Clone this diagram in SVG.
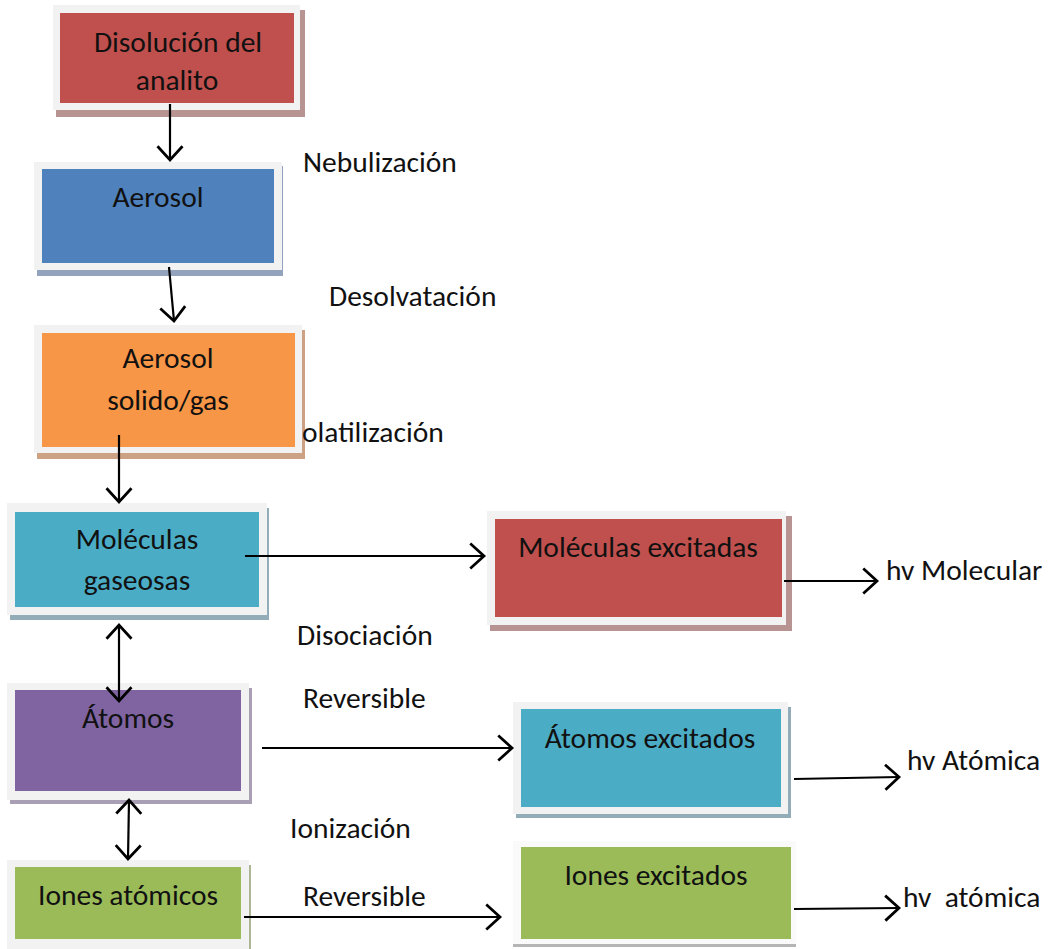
<svg xmlns="http://www.w3.org/2000/svg" width="1052" height="949" viewBox="0 0 1052 949">
<style>
text{font-family:Calibri,Carlito,Lato,"Open Sans",sans-serif;font-size:29.5px;fill:#111}
.c{text-anchor:middle}
.frame{fill:#f2f2f2}
.ln{stroke:#000;stroke-width:2.2;fill:none}
</style>
<defs>
<marker id="ah" markerUnits="userSpaceOnUse" markerWidth="30" markerHeight="30" viewBox="-14 -12 16 24" refX="0" refY="0" orient="auto-start-reverse">
<path d="M-11,-10 L0,0 L-11,10" fill="none" stroke="#000" stroke-width="2.2"/>
</marker>
</defs>
<rect width="1052" height="949" fill="#fff"/>
<g id="n1">
<rect x="56" y="10" width="249" height="107" fill="#b79392"/>
<rect class="frame" x="53" y="5" width="247" height="105"/>
<rect x="60" y="13" width="234" height="90" fill="#c0504d"/>
<text class="c" x="178" y="52">Disolución del</text>
<text class="c" x="177" y="90">analito</text>
</g>
<g id="n2">
<rect x="37" y="166" width="246" height="110" fill="#93a3bd"/>
<rect class="frame" x="34" y="162" width="248" height="108"/>
<rect x="42" y="169" width="232" height="94" fill="#4f81bd"/>
<text class="c" x="158" y="207">Aerosol</text>
</g>
<g id="n3">
<rect x="37" y="330" width="268" height="129" fill="#cda184"/>
<rect class="frame" x="34" y="325" width="268" height="128"/>
<rect x="42" y="333" width="253" height="114" fill="#f79646"/>
<text class="c" x="168" y="368">Aerosol</text>
<text class="c" x="168" y="410">solido/gas</text>
</g>
<g id="n4">
<rect x="10" y="508" width="259" height="112" fill="#93adb8"/>
<rect class="frame" x="7" y="503" width="260" height="112"/>
<rect x="15" y="512" width="244" height="95" fill="#4bacc6"/>
<text class="c" x="137" y="549">Moléculas</text>
<text class="c" x="137" y="590">gaseosas</text>
</g>
<g id="n5">
<rect x="10" y="688" width="242" height="116" fill="#a99fb4"/>
<rect class="frame" x="7" y="683" width="242" height="117"/>
<rect x="15" y="690" width="226" height="101" fill="#8064a2"/>
<text class="c" x="128" y="728">Átomos</text>
</g>
<g id="n6">
<rect x="10" y="865" width="241" height="90" fill="#abb695"/>
<rect class="frame" x="7" y="860" width="242" height="89"/>
<rect x="15" y="867" width="226" height="72" fill="#9bbb59"/>
<text class="c" x="128" y="905">Iones atómicos</text>
</g>
<g id="n7">
<rect x="490" y="516" width="302" height="115" fill="#b79392"/>
<rect class="frame" x="487" y="511" width="299" height="114"/>
<rect x="495" y="519" width="287" height="98" fill="#c0504d"/>
<text class="c" x="638" y="557">Moléculas excitadas</text>
</g>
<g id="n8">
<rect x="516" y="707" width="275" height="111" fill="#93adb8"/>
<rect class="frame" x="513" y="702" width="275" height="112"/>
<rect x="521" y="709" width="260" height="98" fill="#4bacc6"/>
<text class="c" x="650" y="748">Átomos excitados</text>
</g>
<g id="n9">
<rect x="513" y="944" width="283" height="3" fill="#b5b5b5"/>
<rect x="513" y="841" width="283" height="103" fill="#fafafa"/>
<rect x="521" y="847" width="270" height="92" fill="#9bbb59"/>
<text class="c" x="656" y="885">Iones excitados</text>
</g>
<g id="labels">
<text x="303" y="172">Nebulización</text>
<text x="329" y="306">Desolvatación</text>
<text x="302" y="442">olatilización</text>
<text x="297" y="645">Disociación</text>
<text x="303" y="708">Reversible</text>
<text x="290" y="838">Ionización</text>
<text x="303" y="906">Reversible</text>
<text x="886" y="580">hv Molecular</text>
<text x="907" y="770">hv Atómica</text>
<text x="903" y="907" xml:space="preserve">hv  atómica</text>
</g>
<g id="connectors" class="ln">
<line x1="170" y1="104" x2="170" y2="160" marker-end="url(#ah)"/>
<line x1="169" y1="267" x2="174" y2="321" marker-end="url(#ah)"/>
<line x1="119" y1="435" x2="119" y2="502" marker-end="url(#ah)"/>
<line x1="119" y1="625" x2="119" y2="701" marker-start="url(#ah)" marker-end="url(#ah)"/>
<line x1="129" y1="800" x2="128" y2="859" marker-start="url(#ah)" marker-end="url(#ah)"/>
<line x1="245" y1="556" x2="484" y2="556" marker-end="url(#ah)"/>
<line x1="262" y1="748" x2="512" y2="748" marker-end="url(#ah)"/>
<line x1="244" y1="917" x2="500" y2="917" marker-end="url(#ah)"/>
<line x1="784" y1="581" x2="877" y2="581" marker-end="url(#ah)"/>
<line x1="794" y1="779" x2="899" y2="777" marker-end="url(#ah)"/>
<line x1="794" y1="909" x2="899" y2="908" marker-end="url(#ah)"/>
</g>
</svg>
